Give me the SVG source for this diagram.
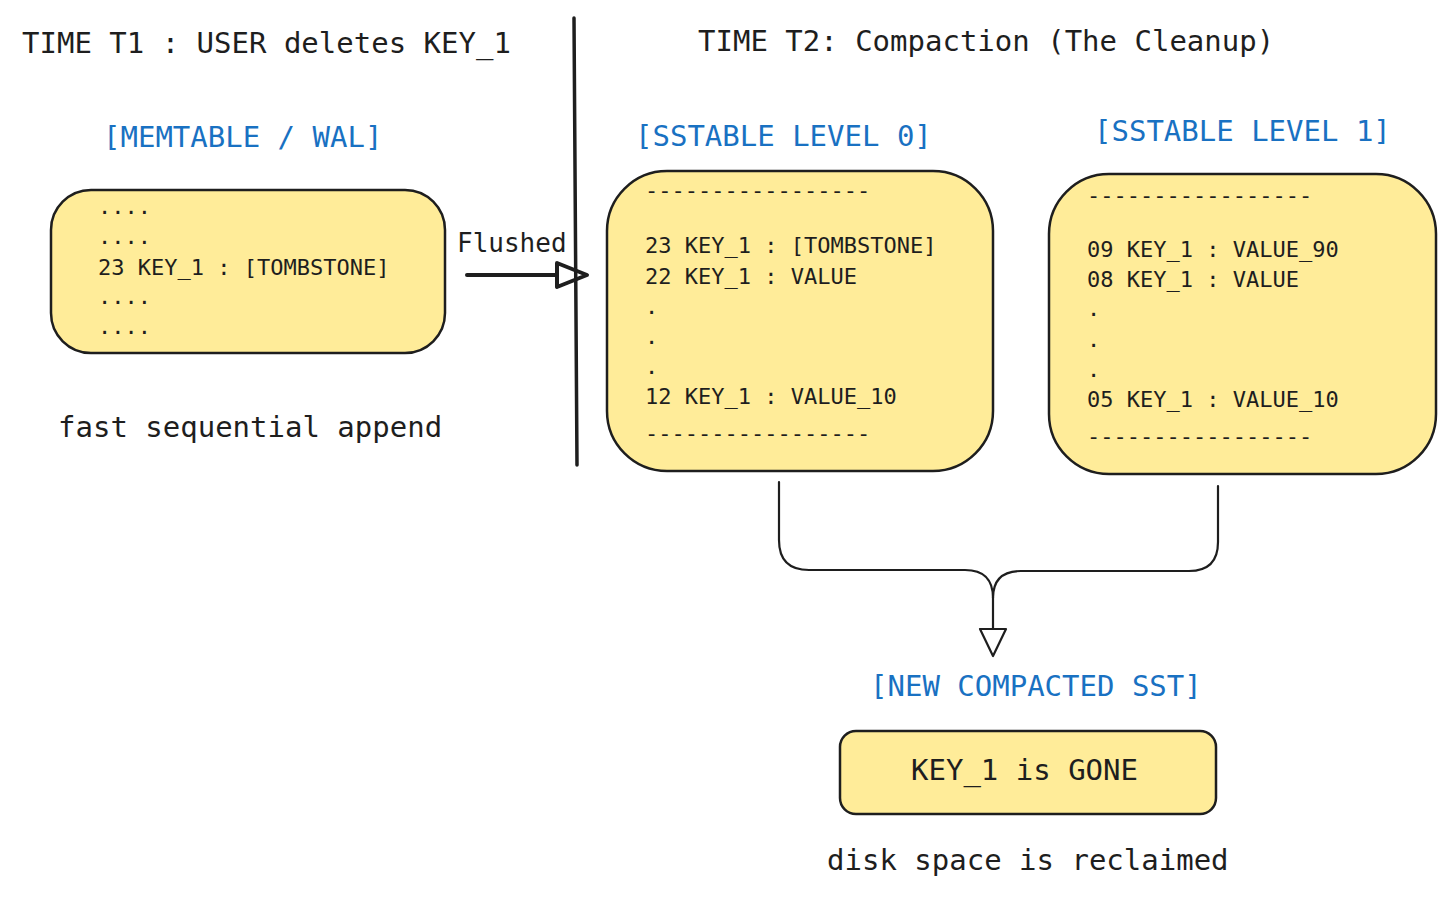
<svg xmlns="http://www.w3.org/2000/svg" width="1456" height="903" viewBox="0 0 1456 903">
<style>
  text { font-family: "DejaVu Sans Mono", "Liberation Mono", monospace; fill: #1e1e1e; }
  .h { font-size: 29px; }
  .blue { fill: #1971c2; font-size: 29px; }
  .b { font-size: 22px; }
  .box { fill: #ffec99; stroke: #1e1e1e; stroke-width: 2.5; }
  .conn { fill: none; stroke: #1e1e1e; stroke-linecap: round; stroke-linejoin: round; }
</style>
<rect width="1456" height="903" fill="#ffffff"/>

<g id="titles">
  <text class="h" x="22" y="53">TIME T1 : USER deletes KEY_1</text>
  <text class="h" x="698" y="51">TIME T2: Compaction (The Cleanup)</text>
</g>

<g id="separator">
  <line x1="574" y1="18" x2="577" y2="465" stroke="#1e1e1e" stroke-width="3.5" stroke-linecap="round"/>
</g>

<g id="memtable">
  <text class="blue" x="103" y="147">[MEMTABLE / WAL]</text>
  <rect class="box" x="51" y="190" width="394" height="163" rx="40"/>
  <text class="b" x="98" y="214">....</text>
  <text class="b" x="98" y="244">....</text>
  <text class="b" x="98" y="275">23 KEY_1 : [TOMBSTONE]</text>
  <text class="b" x="98" y="304">....</text>
  <text class="b" x="98" y="334">....</text>
  <text class="h" x="58" y="437">fast sequential append</text>
</g>

<g id="sstable0">
  <text class="blue" x="635" y="146">[SSTABLE LEVEL 0]</text>
  <rect class="box" x="607" y="171" width="386" height="300" rx="60"/>
  <text class="b" x="645" y="198">-----------------</text>
  <text class="b" x="645" y="253">23 KEY_1 : [TOMBSTONE]</text>
  <text class="b" x="645" y="284">22 KEY_1 : VALUE</text>
  <text class="b" x="645" y="314">.</text>
  <text class="b" x="645" y="344">.</text>
  <text class="b" x="645" y="374">.</text>
  <text class="b" x="645" y="404">12 KEY_1 : VALUE_10</text>
  <text class="b" x="645" y="441">-----------------</text>
</g>

<g id="sstable1">
  <text class="blue" x="1094" y="141">[SSTABLE LEVEL 1]</text>
  <rect class="box" x="1049" y="174" width="387" height="300" rx="60"/>
  <text class="b" x="1087" y="203">-----------------</text>
  <text class="b" x="1087" y="257">09 KEY_1 : VALUE_90</text>
  <text class="b" x="1087" y="287">08 KEY_1 : VALUE</text>
  <text class="b" x="1087" y="316">.</text>
  <text class="b" x="1087" y="347">.</text>
  <text class="b" x="1087" y="377">.</text>
  <text class="b" x="1087" y="407">05 KEY_1 : VALUE_10</text>
  <text class="b" x="1087" y="444">-----------------</text>
</g>

<g id="compacted">
  <text class="blue" x="870" y="696">[NEW COMPACTED SST]</text>
  <rect class="box" x="840" y="731" width="376" height="83" rx="16"/>
  <text class="h" x="911" y="780">KEY_1 is GONE</text>
  <text class="h" x="827" y="870">disk space is reclaimed</text>
</g>

<g id="connectors">
  <text x="457" y="252" style="font-size:26px">Flushed</text>
  <line class="conn" x1="467" y1="275" x2="557" y2="275" stroke-width="4"/>
  <polygon class="conn" points="557,263 587,275 557,287" stroke-width="4"/>
  <path class="conn" stroke-width="2.2" d="M779,482 L779,540 Q779,570 809,570 L965,570 Q993,570 993,598 L993,629"/>
  <path class="conn" stroke-width="2.2" d="M1218,486 L1218,542 Q1218,571 1189,571 L1021,571 Q993,571 993,598"/>
  <polygon class="conn" points="980,629 1006,629 993,656" stroke-width="2.2"/>
</g>
</svg>
